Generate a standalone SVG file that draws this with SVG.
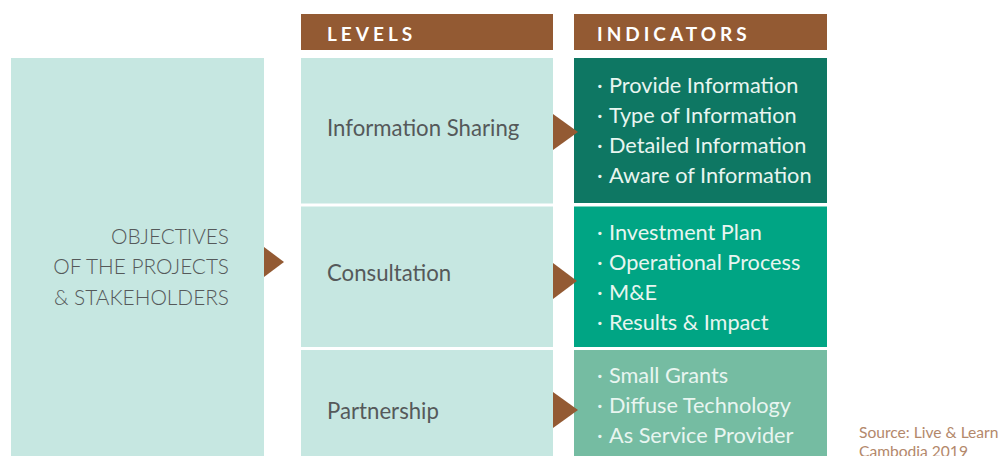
<svg xmlns="http://www.w3.org/2000/svg" width="1005" height="456" viewBox="0 0 1005 456">
<style>
.hdr{fill:#935A33}
.hdrt{fill:#ffffff;font-family:Lato,"Open Sans",sans-serif;font-weight:bold;font-size:19px;letter-spacing:4px}
.lt{fill:#C6E7E1}
.lvl{fill:#55595A;font-family:Lato,"Open Sans",sans-serif;font-size:22.2px}
.obj{fill:#55595A;font-family:Lato,"Open Sans",sans-serif;font-weight:300;font-size:20.8px}
.ind{fill:#E8F5F0;font-family:Lato,"Open Sans",sans-serif;font-size:21.7px}
.arr{fill:#935A33}
.src{fill:#B3886B;font-family:Lato,"Open Sans",sans-serif;font-size:15.6px}
</style>
<rect width="1005" height="456" fill="#ffffff"/>
<g id="header-levels">
<rect class="hdr" x="301" y="14" width="252" height="36"/>
<text class="hdrt" x="327" y="41">LEVELS</text>
</g>
<g id="header-indicators">
<rect class="hdr" x="574" y="14" width="253" height="36"/>
<text class="hdrt" x="597" y="41">INDICATORS</text>
</g>
<g id="objectives">
<rect class="lt" x="11" y="58" width="253" height="398"/>
<text class="obj" text-anchor="end"><tspan x="229" y="244">OBJECTIVES</tspan><tspan x="229" y="274">OF THE PROJECTS</tspan><tspan x="229" y="305">&amp; STAKEHOLDERS</tspan></text>
</g>
<g id="level-info">
<rect class="lt" x="301" y="58" width="252" height="145.5"/>
<text class="lvl" x="327" y="136">Information Sharing</text>
</g>
<g id="level-consult">
<rect class="lt" x="301" y="206.5" width="252" height="140.5"/>
<text class="lvl" x="327" y="281">Consultation</text>
</g>
<g id="level-partner">
<rect class="lt" x="301" y="350" width="252" height="106"/>
<text class="lvl" x="327" y="419">Partnership</text>
</g>
<g id="ind-info">
<rect x="574" y="58" width="253" height="145" fill="#0E7763"/>
<text class="ind"><tspan x="597" y="93">·</tspan><tspan x="609" y="93">Provide Information</tspan><tspan x="597" y="123">·</tspan><tspan x="609" y="123">Type of Information</tspan><tspan x="597" y="153">·</tspan><tspan x="609" y="153">Detailed Information</tspan><tspan x="597" y="183">·</tspan><tspan x="609" y="183">Aware of Information</tspan></text>
</g>
<g id="ind-consult">
<rect x="574" y="206.5" width="253" height="140.5" fill="#00A584"/>
<text class="ind"><tspan x="597" y="240">·</tspan><tspan x="609" y="240">Investment Plan</tspan><tspan x="597" y="270">·</tspan><tspan x="609" y="270">Operational Process</tspan><tspan x="597" y="300">·</tspan><tspan x="609" y="300">M&amp;E</tspan><tspan x="597" y="330">·</tspan><tspan x="609" y="330">Results &amp; Impact</tspan></text>
</g>
<g id="ind-partner">
<rect x="574" y="350" width="253" height="106" fill="#75BCA2"/>
<text class="ind"><tspan x="597" y="383">·</tspan><tspan x="609" y="383">Small Grants</tspan><tspan x="597" y="413">·</tspan><tspan x="609" y="413">Diffuse Technology</tspan><tspan x="597" y="443">·</tspan><tspan x="609" y="443">As Service Provider</tspan></text>
</g>
<g id="connectors">
<polygon class="arr" points="264,247 284,262 264,277"/>
<polygon class="arr" points="553,114 578,132 553,150"/>
<polygon class="arr" points="553,263 577,281 553,299"/>
<polygon class="arr" points="553,392 578,410 553,428"/>
</g>
<g id="source">
<text class="src"><tspan x="859" y="437.5">Source: Live &amp; Learn</tspan><tspan x="859" y="457">Cambodia 2019</tspan></text>
</g>
</svg>
